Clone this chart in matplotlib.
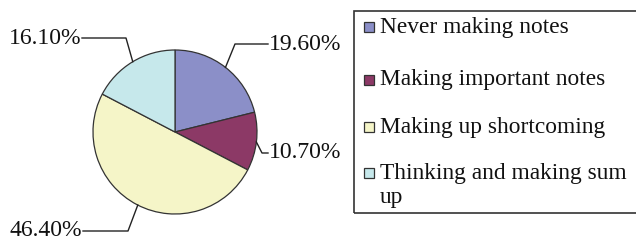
import numpy as np
import matplotlib
matplotlib.use('Agg')
import matplotlib.pyplot as plt
from matplotlib.patches import Rectangle

# data
categories = ['Never making notes', 'Making important notes',
              'Making up shortcoming', 'Thinking and making sum\nup']
values = [19.6, 10.7, 46.4, 16.1]
labels = ['19.60%', '10.70%', '46.40%', '16.10%']
colors = ['#8b8fc8', '#8c3966', '#f5f5c8', '#c6e8eb']

plt.rcParams['font.family'] = ['Liberation Serif', 'DejaVu Serif']

W, H = 636, 240
fig = plt.figure(figsize=(W / 100, H / 100), dpi=100)
ax = fig.add_axes([0, 0, 1, 1])
ax.set_xlim(0, W)
ax.set_ylim(0, H)
ax.axis('off')

cx, cy, r = 175, H - 132, 82
wedges, _ = ax.pie(values, colors=colors, startangle=90, counterclock=False,
                   center=(cx, cy), radius=r,
                   wedgeprops=dict(edgecolor='#333333', linewidth=0.9))
ax.set_xlim(0, W)
ax.set_ylim(0, H)

# leader lines: anchor angle on rim, elbow point, text position
anchor_ang = [52, -7, -117, 121]
elbows = [(235, H - 44), (262, H - 153), (128, H - 231), (126, H - 38)]
ends = [(268, H - 44), (268, H - 153), (83, H - 231), (82, H - 38)]
for lab, a, el, en in zip(labels, anchor_ang, elbows, ends):
    t = np.deg2rad(a)
    p0 = (cx + r * np.cos(t), cy + r * np.sin(t))
    ax.plot([p0[0], el[0], en[0]], [p0[1], el[1], en[1]], color='#222222', lw=1)
    ha = 'left' if en[0] > cx else 'right'
    ax.text(en[0] + (1 if ha == 'left' else -1), en[1], lab, ha=ha, va='center',
            fontsize=17, color='#111111')

# legend box
ax.add_patch(Rectangle((354, H - 213), 300, 202, fill=False, edgecolor='#333333',
                       lw=1.2, clip_on=False))
rows = [27, 80, 127, 173]
for cat, col, y in zip(categories, colors, rows):
    ax.add_patch(Rectangle((364, H - y - 5), 10, 10, facecolor=col,
                           edgecolor='#333333', lw=0.9))
    for i, line in enumerate(cat.split('\n')):
        ax.text(380, H - y - 24 * i, line, ha='left', va='center',
                fontsize=16.8, color='#111111')

fig.savefig('out.png', dpi=100)
